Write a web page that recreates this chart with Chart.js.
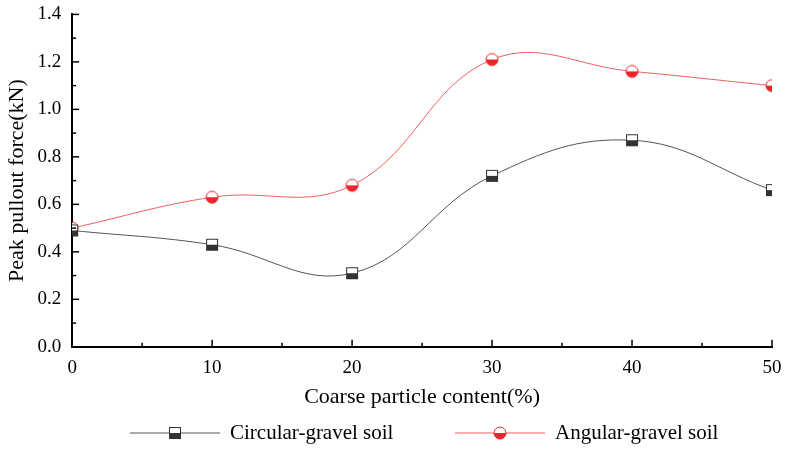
<!DOCTYPE html>
<html><head><meta charset="utf-8">
<script src="https://cdn.jsdelivr.net/npm/chart.js@4"></script>
<style>body{margin:0;background:#fff}#wrap{width:786px;height:472px}</style>
</head><body><div id="wrap"><canvas id="c"></canvas></div>
<script>
const xValues = [0, 10, 20, 30, 40, 50];
const circular = [0.49, 0.43, 0.31, 0.72, 0.87, 0.66];
const angular = [0.50, 0.63, 0.68, 1.21, 1.16, 1.10];

// half-filled marker: white top, coloured bottom
function marker(shape, fill, edge) {
    const c = document.createElement('canvas');
    c.width = 16; c.height = 16;
    const g = c.getContext('2d');
    g.lineWidth = 1;
    g.strokeStyle = edge;
    if (shape === 'square') {
        g.fillStyle = '#fff'; g.fillRect(2, 2, 12, 12);
        g.fillStyle = fill; g.fillRect(2, 8, 12, 6);
        g.strokeRect(2.5, 2.5, 11, 11);
    } else {
        g.fillStyle = '#fff';
        g.beginPath(); g.arc(8, 8, 6, 0, Math.PI * 2); g.fill();
        g.fillStyle = fill;
        g.beginPath(); g.arc(8, 8, 6, 0, Math.PI); g.fill();
        g.beginPath(); g.arc(8, 8, 6, 0, Math.PI * 2); g.stroke();
    }
    return c;
}

const extras = {
    id: 'extras',
    afterDraw(chart) {
        const g = chart.ctx, x = chart.scales.x, y = chart.scales.y;
        g.save();
        g.strokeStyle = '#000'; g.lineWidth = 1.5;
        for (let v = 0; v <= 50; v += 5) {
            const p = x.getPixelForValue(v), len = v % 10 ? 4 : 7;
            g.beginPath(); g.moveTo(p, y.bottom); g.lineTo(p, y.bottom - len); g.stroke();
        }
        for (let v = 0; v <= 1.4001; v += 0.1) {
            const p = y.getPixelForValue(v), len = Math.round(v * 10) % 2 ? 4 : 7;
            g.beginPath(); g.moveTo(x.left, p); g.lineTo(x.left + len, p); g.stroke();
        }
        // legend: line with marker in the middle
        const items = [[130, 0], [455, 1]];
        g.font = '21px "Liberation Serif"';
        g.textBaseline = 'middle';
        items.forEach(([lx, i]) => {
            const ds = chart.data.datasets[i], ly = 433;
            g.strokeStyle = ds.borderColor; g.lineWidth = 1;
            g.beginPath(); g.moveTo(lx, ly); g.lineTo(lx + 90, ly); g.stroke();
            g.drawImage(ds.pointStyle, lx + 37, ly - 8);
            g.fillStyle = '#000';
            g.fillText(ds.label, lx + 100, ly);
        });
        g.restore();
    }
};

const font = { family: 'Liberation Serif', size: 19 };
new Chart(document.getElementById('c'), {
    type: 'line',
    data: {
        datasets: [{
            label: 'Circular-gravel soil',
            data: xValues.map((v, i) => ({ x: v, y: circular[i] })),
            borderColor: '#555', borderWidth: 1,
            pointStyle: marker('square', '#333', '#333'),
            tension: 0.4
        }, {
            label: 'Angular-gravel soil',
            data: xValues.map((v, i) => ({ x: v, y: angular[i] })),
            borderColor: '#f06060', borderWidth: 1,
            pointStyle: marker('circle', '#e8252a', '#e8252a'),
            tension: 0.4
        }]
    },
    options: {
        responsive: true, maintainAspectRatio: false, animation: false,
        layout: { padding: { top: 8, right: 14, left: 0, bottom: 62 } },
        plugins: { tooltip: { enabled: false }, legend: { display: false } },
        scales: {
            x: {
                type: 'linear', min: 0, max: 50,
                border: { color: '#000', width: 2 },
                grid: { display: false },
                ticks: { stepSize: 10, font: font, color: '#000', padding: 2 },
                title: { display: true, text: 'Coarse particle content(%)', font: { family: 'Liberation Serif', size: 22 }, color: '#000', padding: { top: 2, bottom: 0 } }
            },
            y: {
                min: 0, max: 1.4,
                border: { color: '#000', width: 2 },
                grid: { display: false },
                ticks: { stepSize: 0.2, font: font, color: '#000', callback: v => v.toFixed(1) },
                title: { display: true, text: 'Peak pullout force(kN)', font: { family: 'Liberation Serif', size: 22 }, color: '#000' }
            }
        }
    },
    plugins: [extras]
});
</script></body></html>
